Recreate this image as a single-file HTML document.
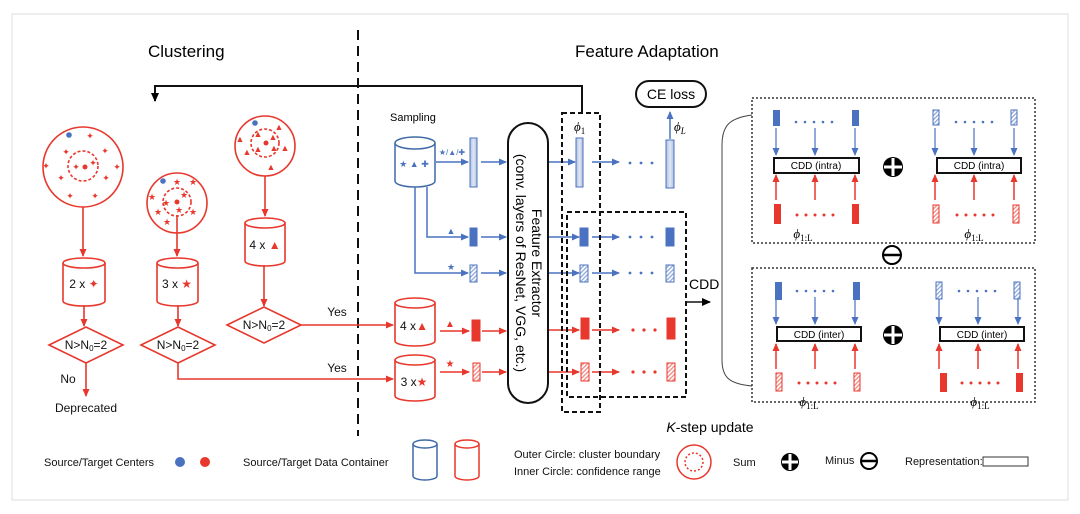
<!DOCTYPE html>
<html><head><meta charset="utf-8"><style>
html,body{margin:0;padding:0;background:#fff;}
svg{display:block;font-family:"Liberation Sans",sans-serif;}
</style></head><body>
<svg width="1080" height="514" viewBox="0 0 1080 514" xmlns="http://www.w3.org/2000/svg">
<defs>
<marker id="ar" markerWidth="8" markerHeight="8" refX="7" refY="4" orient="auto" markerUnits="userSpaceOnUse"><path d="M0,0.5 L8,4 L0,7.5z" fill="#e8372c"/></marker>
<marker id="ab" markerWidth="8" markerHeight="8" refX="7" refY="4" orient="auto" markerUnits="userSpaceOnUse"><path d="M0,0.5 L8,4 L0,7.5z" fill="#4a72c0"/></marker>
<marker id="ak" markerWidth="9" markerHeight="9" refX="8" refY="4.5" orient="auto" markerUnits="userSpaceOnUse"><path d="M0,0.5 L9,4.5 L0,8.5z" fill="#000"/></marker>
<pattern id="hb" width="3" height="3" patternUnits="userSpaceOnUse" patternTransform="rotate(45)"><rect width="3" height="3" fill="#fff"/><rect width="1.3" height="3" fill="#8fa8d8"/></pattern>
<pattern id="hr" width="3" height="3" patternUnits="userSpaceOnUse" patternTransform="rotate(45)"><rect width="3" height="3" fill="#fff"/><rect width="1.3" height="3" fill="#f08a82"/></pattern>
<linearGradient id="gb" x1="0" x2="1"><stop offset="0" stop-color="#aebfe0"/><stop offset="0.5" stop-color="#dfe7f5"/><stop offset="1" stop-color="#aebfe0"/></linearGradient>
</defs>
<rect x="12" y="14" width="1056" height="486" fill="none" stroke="#ddd" stroke-width="1"/>
<text x="148" y="57" font-size="17">Clustering</text>
<text x="575" y="57" font-size="17">Feature Adaptation</text>
<line x1="358" y1="30" x2="358" y2="436" stroke="#111" stroke-width="2" stroke-dasharray="10,6"/>
<polyline points="582,113 582,86 155,86 155,101" fill="none" stroke="#111" stroke-width="2" marker-end="url(#ak)"/>

<g stroke="#e8372c" fill="none" stroke-width="1.6">
<circle cx="83" cy="167" r="40"/><circle cx="83" cy="166" r="15" stroke-dasharray="3,2"/>
<circle cx="177" cy="203" r="30"/><circle cx="177" cy="202" r="14" stroke-dasharray="3,2"/>
<circle cx="265" cy="146" r="30"/><circle cx="265" cy="143" r="14" stroke-dasharray="3,2"/>
<line x1="83" y1="207" x2="83" y2="256" marker-end="url(#ar)"/>
<line x1="177" y1="215" x2="177" y2="256" marker-end="url(#ar)"/>
<line x1="265" y1="176" x2="265" y2="216" marker-end="url(#ar)"/>
<line x1="84" y1="305" x2="84" y2="326" marker-end="url(#ar)"/>
<line x1="178" y1="305" x2="178" y2="326" marker-end="url(#ar)"/>
<line x1="264" y1="265" x2="264" y2="306" marker-end="url(#ar)"/>
<line x1="86" y1="363" x2="86" y2="396" marker-end="url(#ar)"/>
<polygon points="49,345 86,327 123,345 86,363" fill="#fff"/>
<polygon points="141,345 178,327 215,345 178,363" fill="#fff"/>
<polygon points="227,325 264,307 301,325 264,343" fill="#fff"/>
<line x1="301" y1="325" x2="393" y2="325" marker-end="url(#ar)"/>
<polyline points="178,363 178,379 393,379" marker-end="url(#ar)"/>
<path d="M63,263 v38 a21,5 0 0 0 42,0 v-38"/><ellipse cx="84" cy="263" rx="21" ry="5"/>
<path d="M157,263 v38 a20.5,5 0 0 0 41,0 v-38"/><ellipse cx="177.5" cy="263" rx="20.5" ry="5"/>
<path d="M245,223 v38 a20,5 0 0 0 40,0 v-38"/><ellipse cx="265" cy="223" rx="20" ry="5"/>
<path d="M395,303 v38 a20,5 0 0 0 40,0 v-38"/><ellipse cx="415" cy="303" rx="20" ry="5"/>
<path d="M395,360 v36 a20,5 0 0 0 40,0 v-36"/><ellipse cx="415" cy="360" rx="20" ry="5"/>
</g>
<g fill="#e8372c" font-size="9" text-anchor="middle">
<circle cx="85" cy="167" r="2.5"/><circle cx="177" cy="202" r="2.5"/><circle cx="266" cy="143" r="2.5"/>
<text x="90" y="139">✦</text><text x="66" y="155">✦</text><text x="105" y="154">✦</text><text x="46" y="169">✦</text><text x="117" y="170">✦</text><text x="76" y="170">✦</text><text x="93" y="166">✦</text><text x="61" y="181">✦</text><text x="106" y="181">✦</text><text x="70" y="199">✦</text><text x="95" y="199">✦</text>
<text x="177" y="185">★</text><text x="193" y="185">★</text><text x="184" y="198">★</text><text x="152" y="200">★</text><text x="166" y="206">★</text><text x="193" y="215">★</text><text x="158" y="215">★</text><text x="179" y="213">★</text><text x="167" y="225">★</text>
<text x="279" y="130">▲</text><text x="258" y="137">▲</text><text x="273" y="140">▲</text><text x="240" y="142">▲</text><text x="258" y="152">▲</text><text x="274" y="151">▲</text><text x="285" y="151">▲</text><text x="247" y="155">▲</text><text x="271" y="170">▲</text>
</g>
<circle cx="69" cy="135" r="2.8" fill="#4a72c0"/><circle cx="163" cy="181" r="2.8" fill="#4a72c0"/><circle cx="255" cy="123" r="2.8" fill="#4a72c0"/>
<g font-size="12" text-anchor="middle" fill="#111">
<text x="84" y="288">2 x <tspan fill="#e8372c">✦</tspan></text>
<text x="177" y="288">3 x <tspan fill="#e8372c">★</tspan></text>
<text x="265" y="249">4 x <tspan fill="#e8372c">▲</tspan></text>
<text x="86" y="349">N&gt;N<tspan font-size="8" dy="2">0</tspan><tspan dy="-2">=2</tspan></text>
<text x="178" y="349">N&gt;N<tspan font-size="8" dy="2">0</tspan><tspan dy="-2">=2</tspan></text>
<text x="264" y="329">N&gt;N<tspan font-size="8" dy="2">0</tspan><tspan dy="-2">=2</tspan></text>
<text x="68" y="383">No</text>
<text x="86" y="412">Deprecated</text>
<text x="337" y="316">Yes</text>
<text x="337" y="372">Yes</text>
<text x="414" y="330">4 x<tspan fill="#e8372c">▲</tspan></text>
<text x="414" y="386">3 x<tspan fill="#e8372c">★</tspan></text>
</g>

<text x="390" y="121" font-size="11">Sampling</text>
<g stroke="#3f6aa8" fill="none" stroke-width="1.5">
<path d="M395,143 v38 a20,6 0 0 0 40,0 v-38"/><ellipse cx="415" cy="143" rx="20" ry="6" fill="#fff"/>
</g>
<text x="414" y="167" font-size="9" fill="#4a72c0" text-anchor="middle">★ ▲ ✚</text>
<text x="452" y="155" font-size="8" fill="#4a72c0" text-anchor="middle">★/▲/✚</text>
<g stroke="#4a72c0" fill="none" stroke-width="1.5">
<line x1="436" y1="162" x2="468" y2="162" marker-end="url(#ab)"/>
<polyline points="427,187 427,237 468,237" marker-end="url(#ab)"/>
<polyline points="415,187 415,273 468,273" marker-end="url(#ab)"/>
<line x1="481" y1="162" x2="506" y2="162" marker-end="url(#ab)"/>
<line x1="481" y1="237" x2="506" y2="237" marker-end="url(#ab)"/>
<line x1="481" y1="273" x2="506" y2="273" marker-end="url(#ab)"/>
<line x1="549" y1="162" x2="575" y2="162" marker-end="url(#ab)"/>
<line x1="549" y1="237" x2="579" y2="237" marker-end="url(#ab)"/>
<line x1="549" y1="273" x2="579" y2="273" marker-end="url(#ab)"/>
<line x1="592" y1="162" x2="619" y2="162" marker-end="url(#ab)"/>
<line x1="592" y1="237" x2="619" y2="237" marker-end="url(#ab)"/>
<line x1="592" y1="273" x2="619" y2="273" marker-end="url(#ab)"/>
<line x1="670" y1="139" x2="670" y2="112" marker-end="url(#ab)"/>
</g>
<g fill="#4a72c0" font-size="9" text-anchor="middle"><text x="451" y="234">▲</text><text x="451" y="270">★</text></g>
<g fill="#4a72c0"><circle cx="630" cy="163" r="1.4"/><circle cx="641" cy="163" r="1.4"/><circle cx="652" cy="163" r="1.4"/>
<circle cx="630" cy="237" r="1.4"/><circle cx="641" cy="237" r="1.4"/><circle cx="652" cy="237" r="1.4"/>
<circle cx="630" cy="273" r="1.4"/><circle cx="641" cy="273" r="1.4"/><circle cx="652" cy="273" r="1.4"/></g>
<g stroke="#4a72c0" stroke-width="1">
<rect x="470" y="138" width="7" height="49" fill="url(#gb)"/>
<rect x="576" y="138" width="7" height="49" fill="url(#gb)"/>
<rect x="666" y="140" width="8" height="48" fill="url(#gb)"/>
<rect x="470" y="228" width="7" height="18" fill="#4a72c0"/>
<rect x="580" y="228" width="8" height="18" fill="#4a72c0"/>
<rect x="666" y="228" width="8" height="18" fill="#4a72c0"/>
<rect x="470" y="265" width="7" height="17" fill="url(#hb)"/>
<rect x="580" y="265" width="8" height="17" fill="url(#hb)"/>
<rect x="666" y="265" width="8" height="17" fill="url(#hb)"/>
</g>
<g stroke="#e8372c" fill="none" stroke-width="1.5">
<line x1="440" y1="331" x2="469" y2="331" marker-end="url(#ar)"/>
<line x1="440" y1="372" x2="469" y2="372" marker-end="url(#ar)"/>
<line x1="482" y1="331" x2="506" y2="331" marker-end="url(#ar)"/>
<line x1="482" y1="372" x2="506" y2="372" marker-end="url(#ar)"/>
<line x1="549" y1="330" x2="579" y2="330" marker-end="url(#ar)"/>
<line x1="549" y1="372" x2="579" y2="372" marker-end="url(#ar)"/>
<line x1="592" y1="330" x2="619" y2="330" marker-end="url(#ar)"/>
<line x1="592" y1="372" x2="619" y2="372" marker-end="url(#ar)"/>
</g>
<g fill="#e8372c" font-size="10" text-anchor="middle"><text x="450" y="327">▲</text><text x="450" y="367">★</text></g>
<g fill="#e8372c"><circle cx="633" cy="330" r="1.6"/><circle cx="644" cy="330" r="1.6"/><circle cx="655" cy="330" r="1.6"/>
<circle cx="633" cy="372" r="1.6"/><circle cx="644" cy="372" r="1.6"/><circle cx="655" cy="372" r="1.6"/></g>
<g stroke="#e8372c" stroke-width="1">
<rect x="472" y="320" width="8" height="21" fill="#e8372c"/>
<rect x="581" y="318" width="8" height="21" fill="#e8372c"/>
<rect x="667" y="318" width="8" height="21" fill="#e8372c"/>
<rect x="473" y="363" width="7" height="18" fill="url(#hr)"/>
<rect x="581" y="363" width="8" height="18" fill="url(#hr)"/>
<rect x="667" y="363" width="8" height="18" fill="url(#hr)"/>
</g>
<rect x="508" y="123" width="40" height="280" rx="20" fill="#fff" stroke="#111" stroke-width="2"/>
<text transform="translate(532,263) rotate(90)" font-size="14" text-anchor="middle">Feature Extractor</text>
<text transform="translate(516,263) rotate(90)" font-size="14" text-anchor="middle">(conv. layers of ResNet, VGG, etc.)</text>
<rect x="562" y="113" width="38" height="299" fill="none" stroke="#111" stroke-width="2" stroke-dasharray="5,3"/>
<rect x="567" y="212" width="119" height="185" fill="none" stroke="#111" stroke-width="2" stroke-dasharray="5,3"/>
<text x="574" y="131" font-size="13" font-style="italic" font-family="Liberation Serif,serif">ϕ<tspan font-size="9" dy="3" font-style="normal">1</tspan></text>
<text x="674" y="131" font-size="13" font-style="italic" font-family="Liberation Serif,serif">ϕ<tspan font-size="9" dy="3">L</tspan></text>
<rect x="636" y="81" width="70" height="26" rx="13" fill="#fff" stroke="#111" stroke-width="2"/>
<text x="671" y="99" font-size="14" text-anchor="middle">CE loss</text>
<text x="689" y="289" font-size="14">CDD</text>
<line x1="686" y1="302" x2="710" y2="302" stroke="#111" stroke-width="1.5" marker-end="url(#ak)"/>
<text x="710" y="432" font-size="14" text-anchor="middle"><tspan font-style="italic">K</tspan>-step update</text>

<path d="M752,115 C730,118 722,125 722,145 L722,360 C722,378 730,384 752,386" fill="none" stroke="#444" stroke-width="1"/>
<rect x="752" y="98" width="283" height="145" fill="none" stroke="#333" stroke-width="1.5" stroke-dasharray="2,2"/>
<rect x="752" y="268" width="283" height="134" fill="none" stroke="#333" stroke-width="1.5" stroke-dasharray="2,2"/>
<g id="p1">
<g stroke="#4a72c0" stroke-width="1.2"><line x1="776" y1="128" x2="776" y2="155" marker-end="url(#ab)"/><line x1="815" y1="128" x2="815" y2="155" marker-end="url(#ab)"/><line x1="855" y1="128" x2="855" y2="155" marker-end="url(#ab)"/></g>
<g stroke="#e8372c" stroke-width="1.5"><line x1="776" y1="200" x2="776" y2="175" marker-end="url(#ar)"/><line x1="815" y1="200" x2="815" y2="175" marker-end="url(#ar)"/><line x1="855" y1="200" x2="855" y2="175" marker-end="url(#ar)"/></g>
</g>
<use href="#p1" x="159"/><use href="#p1" y="169"/><use href="#p1" x="163" y="169"/>
<g fill="#4a72c0">
<rect x="773" y="110" width="7" height="16"/><rect x="852" y="110" width="7" height="16"/>
<rect x="775" y="282" width="7" height="18"/><rect x="853" y="282" width="7" height="18"/>
</g>
<g stroke="#4a72c0" fill="url(#hb)"><rect x="933" y="110" width="6" height="15"/><rect x="1011" y="110" width="6" height="15"/><rect x="936" y="282" width="6" height="17"/><rect x="1014" y="282" width="6" height="17"/></g>
<g fill="#e8372c"><rect x="774" y="204" width="7" height="20"/><rect x="852" y="204" width="7" height="20"/><rect x="940" y="373" width="7" height="19"/><rect x="1016" y="373" width="7" height="19"/></g>
<g stroke="#e8372c" fill="url(#hr)"><rect x="933" y="205" width="6" height="18"/><rect x="1013" y="205" width="6" height="18"/><rect x="776" y="373" width="6" height="18"/><rect x="854" y="373" width="6" height="18"/></g>
<g fill="#4a72c0"><circle cx="796" cy="122" r="1.3"/><circle cx="805" cy="122" r="1.3"/><circle cx="814" cy="122" r="1.3"/><circle cx="823" cy="122" r="1.3"/><circle cx="832" cy="122" r="1.3"/>
<circle cx="956" cy="122" r="1.3"/><circle cx="965" cy="122" r="1.3"/><circle cx="974" cy="122" r="1.3"/><circle cx="983" cy="122" r="1.3"/><circle cx="992" cy="122" r="1.3"/>
<circle cx="797" cy="291" r="1.3"/><circle cx="806" cy="291" r="1.3"/><circle cx="815" cy="291" r="1.3"/><circle cx="824" cy="291" r="1.3"/><circle cx="833" cy="291" r="1.3"/>
<circle cx="959" cy="291" r="1.3"/><circle cx="968" cy="291" r="1.3"/><circle cx="977" cy="291" r="1.3"/><circle cx="986" cy="291" r="1.3"/><circle cx="995" cy="291" r="1.3"/></g>
<g fill="#e8372c"><circle cx="797" cy="215" r="1.5"/><circle cx="806" cy="215" r="1.5"/><circle cx="815" cy="215" r="1.5"/><circle cx="824" cy="215" r="1.5"/><circle cx="833" cy="215" r="1.5"/>
<circle cx="957" cy="215" r="1.5"/><circle cx="966" cy="215" r="1.5"/><circle cx="975" cy="215" r="1.5"/><circle cx="984" cy="215" r="1.5"/><circle cx="993" cy="215" r="1.5"/>
<circle cx="799" cy="383" r="1.5"/><circle cx="808" cy="383" r="1.5"/><circle cx="817" cy="383" r="1.5"/><circle cx="826" cy="383" r="1.5"/><circle cx="835" cy="383" r="1.5"/>
<circle cx="962" cy="383" r="1.5"/><circle cx="971" cy="383" r="1.5"/><circle cx="980" cy="383" r="1.5"/><circle cx="989" cy="383" r="1.5"/><circle cx="998" cy="383" r="1.5"/></g>
<g fill="#fff" stroke="#111" stroke-width="2">
<rect x="774" y="158" width="85" height="15"/><rect x="937" y="158" width="84" height="15"/>
<rect x="777" y="327" width="84" height="14"/><rect x="940" y="327" width="84" height="14"/>
</g>
<g font-size="10" text-anchor="middle"><text x="816" y="169">CDD (intra)</text><text x="979" y="169">CDD (intra)</text><text x="819" y="338">CDD (inter)</text><text x="982" y="338">CDD (inter)</text></g>
<g font-size="13" font-style="italic" font-family="Liberation Serif,serif" text-anchor="middle">
<text x="803" y="238">ϕ<tspan font-size="9" dy="3" font-style="normal">1:L</tspan></text>
<text x="974" y="238">ϕ<tspan font-size="9" dy="3" font-style="normal">1:L</tspan></text>
<text x="809" y="406">ϕ<tspan font-size="9" dy="3" font-style="normal">1:L</tspan></text>
<text x="980" y="406">ϕ<tspan font-size="9" dy="3" font-style="normal">1:L</tspan></text>
</g>
<g id="plus"><circle cx="893" cy="167" r="10" fill="#000"/><rect x="884" y="165.5" width="18" height="3" fill="#fff"/><rect x="891.5" y="158" width="3" height="18" fill="#fff"/></g>
<use href="#plus" y="168"/>
<circle cx="892" cy="255" r="9" fill="#fff" stroke="#000" stroke-width="2"/><line x1="883" y1="255" x2="901" y2="255" stroke="#000" stroke-width="2.5"/>

<g font-size="11" fill="#111">
<text x="44" y="466">Source/Target Centers</text>
<text x="243" y="466">Source/Target Data Container</text>
<text x="514" y="458">Outer Circle: cluster boundary</text>
<text x="514" y="475">Inner Circle: confidence range</text>
<text x="733" y="466">Sum</text>
<text x="825" y="464">Minus</text>
<text x="905" y="465">Representation:</text>
</g>
<circle cx="180" cy="462" r="5" fill="#4a72c0"/><circle cx="205" cy="462" r="5" fill="#e8372c"/>
<g fill="none" stroke-width="1.5">
<path stroke="#3f6aa8" d="M413,444 v32 a12,4 0 0 0 24,0 v-32"/><ellipse stroke="#3f6aa8" cx="425" cy="444" rx="12" ry="4"/>
<path stroke="#e8372c" d="M455,444 v32 a12,4 0 0 0 24,0 v-32"/><ellipse stroke="#e8372c" cx="467" cy="444" rx="12" ry="4"/>
<circle cx="694" cy="462" r="17" stroke="#e8372c"/><circle cx="694" cy="462" r="9" stroke="#e8372c" stroke-dasharray="2,2"/>
<rect x="983" y="457" width="45" height="9" stroke="#333" stroke-width="1"/>
</g>
<circle cx="790" cy="462" r="9" fill="#000"/><rect x="782" y="460.5" width="16" height="3" fill="#fff"/><rect x="788.5" y="454" width="3" height="16" fill="#fff"/>
<circle cx="869" cy="461" r="8" fill="#fff" stroke="#000" stroke-width="2"/><line x1="861" y1="461" x2="877" y2="461" stroke="#000" stroke-width="2.5"/>
</svg>
</body></html>
